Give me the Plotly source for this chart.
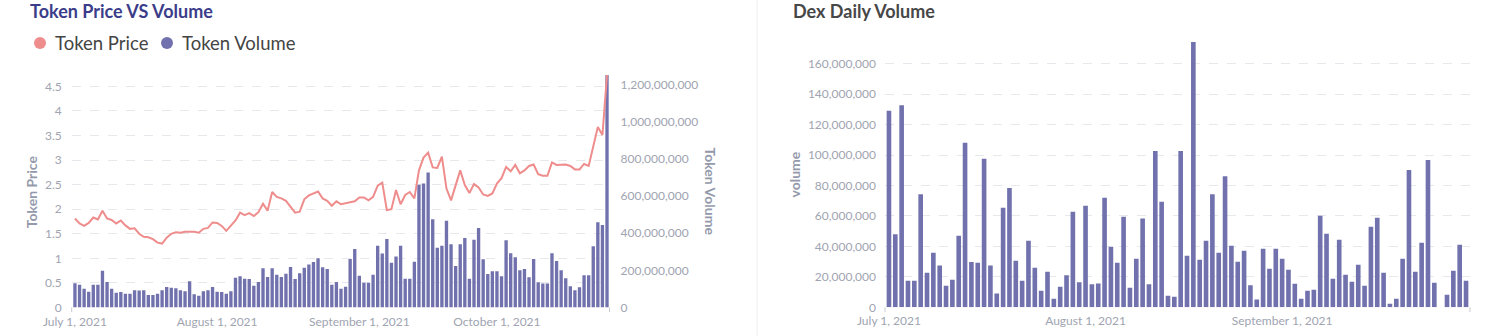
import pandas as pd
import plotly.graph_objects as go

W, H = 1511, 336

# ---------------- data ----------------
price_dates = pd.date_range("2021-07-01", periods=117, freq="D")
token_price = [
    1.81, 1.71, 1.66, 1.72, 1.83, 1.79, 1.97, 1.81, 1.78, 1.71,
    1.77, 1.67, 1.60, 1.61, 1.50, 1.44, 1.43, 1.39, 1.32, 1.30,
    1.42, 1.50, 1.53, 1.52, 1.54, 1.54, 1.54, 1.52, 1.60, 1.62,
    1.73, 1.72, 1.66, 1.56, 1.66, 1.77, 1.93, 1.88, 1.92, 1.86,
    1.94, 2.11, 1.97, 2.35, 2.25, 2.22, 2.17, 2.05, 1.93, 1.95,
    2.20, 2.28, 2.32, 2.36, 2.22, 2.17, 2.07, 2.16, 2.10, 2.12,
    2.14, 2.16, 2.24, 2.24, 2.18, 2.25, 2.48, 2.54, 1.98, 2.00,
    2.39, 2.10, 2.29, 2.35, 2.22, 2.79, 3.05, 3.15, 2.85, 2.84,
    3.07, 2.42, 2.18, 2.47, 2.79, 2.49, 2.33, 2.51, 2.44, 2.30,
    2.27, 2.32, 2.52, 2.63, 2.86, 2.77, 2.90, 2.73, 2.79, 2.88,
    2.91, 2.71, 2.68, 2.68, 2.95, 2.90, 2.90, 2.91, 2.88, 2.81,
    2.81, 2.92, 2.88, 3.27, 3.67, 3.51, 4.73,
]
token_volume_m = [
    131, 122, 101, 85, 122, 122, 198, 137, 101, 79,
    83, 74, 74, 93, 92, 93, 68, 68, 74, 93,
    110, 106, 104, 93, 88, 142, 72, 63, 88, 93,
    110, 85, 83, 74, 88, 160, 169, 155, 153, 117,
    137, 212, 165, 212, 176, 165, 182, 218, 153, 185,
    214, 232, 245, 266, 217, 208, 122, 137, 101, 112,
    262, 315, 171, 133, 133, 176, 333, 291, 369, 241,
    275, 333, 155, 155, 246, 661, 668, 727, 476, 322,
    333, 467, 341, 223, 341, 374, 155, 365, 428, 260,
    180, 196, 196, 169, 363, 293, 271, 201, 207, 163,
    262, 136, 129, 129, 293, 250, 201, 158, 115, 93,
    109, 174, 174, 330, 460, 444, 1253,
]
token_volume = [v * 1e6 for v in token_volume_m]

dex_dates = pd.date_range("2021-07-01", periods=92, freq="D")
dex_volume_m = [
    129, 48, 132.7, 17.5, 17.5, 74.3, 22.7, 35.8, 27.5, 14.2,
    18.1, 47, 108, 29.7, 29.3, 97.5, 27.5, 9, 65.3, 78.4,
    30.6, 17.5, 43.7, 26, 10.9, 23.3, 5.6, 13.5, 21, 62.7,
    16.4, 66.6, 15.1, 15.7, 71.9, 39.7, 29.3, 59.4, 12.9, 31.9,
    58.3, 15.1, 102.7, 69.3, 7.6, 7.0, 102.7, 33.8, 174.2, 31.2,
    43.7, 74.3, 35.8, 86.1, 40.4, 29.9, 37.1, 14.4, 5.2, 38.4,
    25.3, 38.4, 31.9, 24.7, 15.5, 5.6, 10.9, 11.5, 60.1, 48.3,
    18.8, 44.3, 21.4, 16.8, 27.9, 14.2, 52.9, 58.8, 22.7, 2.4,
    5.6, 31.9, 90.2, 23.3, 42.4, 96.8, 16.1, None, 8.3, 24,
    41, 17.4,
]
dex_volume = [None if v is None else v * 1e6 for v in dex_volume_m]

left_tick_dates = ["2021-07-01", "2021-08-01", "2021-09-01", "2021-10-01"]
left_tick_text = ["July 1, 2021", "August 1, 2021", "September 1, 2021", "October 1, 2021"]
right_tick_dates = ["2021-07-01", "2021-08-01", "2021-09-01"]
right_tick_text = ["July 1, 2021", "August 1, 2021", "September 1, 2021"]
price_ticks = [0, 0.5, 1, 1.5, 2, 2.5, 3, 3.5, 4, 4.5]

# ---------------- styles ----------------
PINK = "#EF8C8C"
PURPLE = "#7172AD"
TICK_COLOR = "#A0A4B1"
AXIS_TITLE_COLOR = "#949AAB"
GRID = "#E6E8EC"
FONT = "Lato"


def px(x):
    return x / W


def py(y):
    return 1 - y / H


fig = go.Figure()

fig.add_trace(go.Bar(
    x=price_dates, y=token_volume, name="Token Volume",
    marker=dict(color=PURPLE, line=dict(width=0)),
    xaxis="x", yaxis="y", showlegend=False,
))
fig.add_trace(go.Scatter(
    x=price_dates, y=token_price, name="Token Price", mode="lines",
    line=dict(color=PINK, width=2),
    xaxis="x", yaxis="y2", showlegend=False,
))
fig.add_trace(go.Bar(
    x=dex_dates, y=dex_volume, name="volume",
    marker=dict(color=PURPLE, line=dict(width=0)),
    xaxis="x2", yaxis="y3", showlegend=False,
))

tickfont = dict(family=FONT, size=12, color=TICK_COLOR)

fig.update_layout(
    width=W, height=H, autosize=False,
    margin=dict(l=0, r=0, t=0, b=0, pad=0),
    paper_bgcolor="white", plot_bgcolor="white",
    font=dict(family=FONT),
    bargap=0.27,
    showlegend=False,
    xaxis=dict(
        domain=[px(71.7), px(609.5)], anchor="y", automargin=False,
        type="date",
        range=["2021-06-30 07:00", "2021-10-25 13:00"],
        tickvals=left_tick_dates, ticktext=left_tick_text,
        tickfont=tickfont, showgrid=False, zeroline=False, showline=False,
        ticks="", ticklabelstandoff=5,
    ),
    yaxis=dict(
        domain=[py(307.5), py(75)], anchor="x", side="right", automargin=False,
        range=[0, max(token_volume)],
        dtick=200e6, tickformat=",",
        tickfont=tickfont, showgrid=False, zeroline=False, showline=False,
        ticks="", ticklabelstandoff=10,
    ),
    yaxis2=dict(
        overlaying="y", anchor="x", side="left", automargin=False,
        range=[0, max(token_price)],
        tickvals=price_ticks,
        tickfont=tickfont, showgrid=True, gridcolor=GRID, griddash="dash",
        gridwidth=1, zeroline=False, showline=False,
        ticks="", ticklabelstandoff=9,
    ),
    xaxis2=dict(
        domain=[px(885), px(1470)], anchor="y3", automargin=False,
        type="date",
        range=["2021-06-30 09:00", "2021-09-30 15:00"],
        tickvals=right_tick_dates, ticktext=right_tick_text,
        tickfont=tickfont, showgrid=False, zeroline=False, showline=False,
        ticks="", ticklabelstandoff=5,
    ),
    yaxis3=dict(
        domain=[py(307.3), py(42)], anchor="x2", side="left", automargin=False,
        range=[0, max(v for v in dex_volume if v is not None)],
        dtick=20e6, tickformat=",",
        tickfont=tickfont, showgrid=True, gridcolor=GRID, griddash="dash",
        gridwidth=1, zeroline=False, showline=False,
        ticks="", ticklabelstandoff=8,
    ),
)

annotations = [
    dict(text="<b>Token Price VS Volume</b>", x=px(28), y=py(10.5),
         xanchor="left", yanchor="middle", showarrow=False,
         font=dict(family=FONT, size=18, color="#3B3D8A")),
    dict(text="<b>Dex Daily Volume</b>", x=px(791), y=py(10.5),
         xanchor="left", yanchor="middle", showarrow=False,
         font=dict(family=FONT, size=18, color="#474747")),
    dict(text="Token Price", x=px(53), y=py(43),
         xanchor="left", yanchor="middle", showarrow=False,
         font=dict(family=FONT, size=18.5, color="#444444")),
    dict(text="Token Volume", x=px(180), y=py(43),
         xanchor="left", yanchor="middle", showarrow=False,
         font=dict(family=FONT, size=18.5, color="#444444")),
    dict(text="<b>Token Price</b>", x=px(31.7), y=py(191.5),
         xanchor="center", yanchor="middle", showarrow=False, textangle=-90,
         font=dict(family=FONT, size=14, color=AXIS_TITLE_COLOR)),
    dict(text="<b>Token Volume</b>", x=px(710), y=py(191.5),
         xanchor="center", yanchor="middle", showarrow=False, textangle=90,
         font=dict(family=FONT, size=14, color=AXIS_TITLE_COLOR)),
    dict(text="<b>volume</b>", x=px(793.5), y=py(175),
         xanchor="center", yanchor="middle", showarrow=False, textangle=-90,
         font=dict(family=FONT, size=14, color=AXIS_TITLE_COLOR)),
]
for a in annotations:
    a["xref"] = "paper"
    a["yref"] = "paper"
fig.update_layout(annotations=annotations)

shapes = [
    dict(type="circle", xref="paper", yref="paper",
         x0=px(34), x1=px(46), y0=py(49), y1=py(37),
         fillcolor=PINK, line=dict(width=0)),
    dict(type="circle", xref="paper", yref="paper",
         x0=px(161), x1=px(173), y0=py(49), y1=py(37),
         fillcolor=PURPLE, line=dict(width=0)),
    # card separator
    dict(type="line", xref="paper", yref="paper",
         x0=px(757), x1=px(757), y0=0, y1=1,
         line=dict(color="#EEEEEE", width=1)),
    # small axis end ticks
    dict(type="line", xref="paper", yref="paper",
         x0=px(71.7), x1=px(71.7), y0=py(307.5), y1=py(312),
         line=dict(color="#C8CBD3", width=1)),
    dict(type="line", xref="paper", yref="paper",
         x0=px(609.5), x1=px(609.5), y0=py(307.5), y1=py(312),
         line=dict(color="#C8CBD3", width=1)),
    dict(type="line", xref="paper", yref="paper",
         x0=px(885), x1=px(885), y0=py(307.3), y1=py(312),
         line=dict(color="#C8CBD3", width=1)),
    dict(type="line", xref="paper", yref="paper",
         x0=px(1470), x1=px(1470), y0=py(307.3), y1=py(312),
         line=dict(color="#C8CBD3", width=1)),
]
fig.update_layout(shapes=shapes)

fig.write_html("out.html")
